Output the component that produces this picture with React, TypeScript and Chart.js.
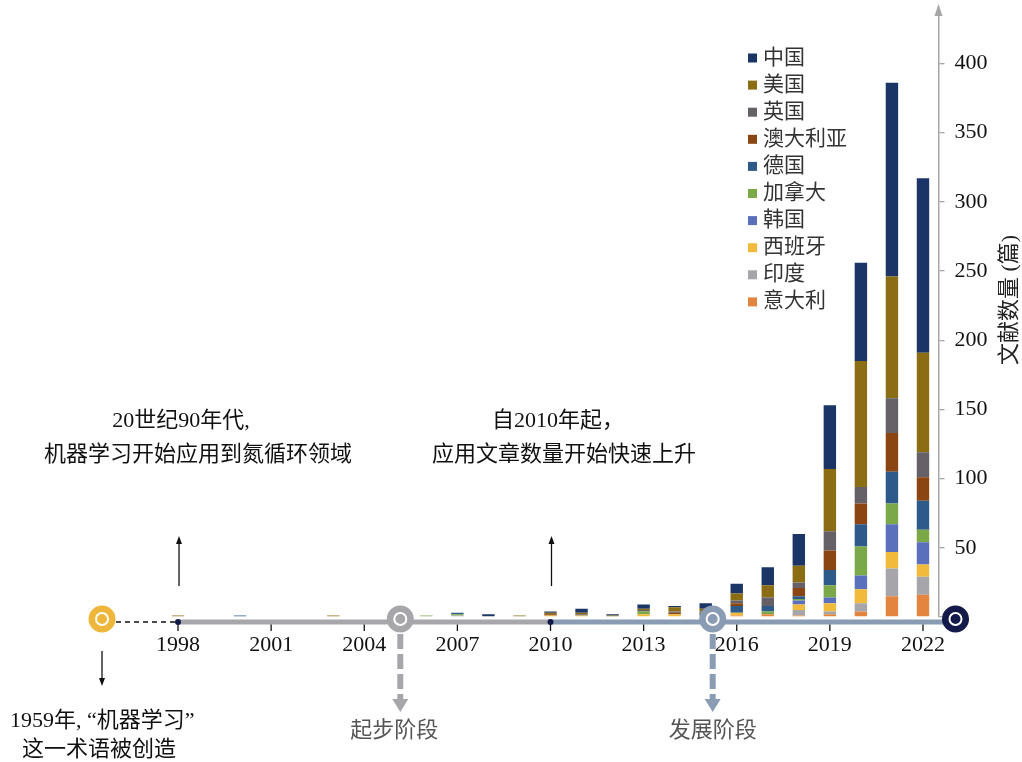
import React, { useEffect, useRef } from 'react';
import { Chart, registerables } from 'chart.js';

Chart.register(...registerables);

const FONT = "'Liberation Serif', 'Noto Sans CJK SC', serif";

const years = [
  '1998', '1999', '2000', '2001', '2002', '2003', '2004', '2005', '2006', '2007',
  '2008', '2009', '2010', '2011', '2012', '2013', '2014', '2015', '2016', '2017',
  '2018', '2019', '2020', '2021', '2022',
];
const shownYears = ['1998', '2001', '2004', '2007', '2010', '2013', '2016', '2019', '2022'];

// stacked from bottom (意大利) to top (中国)
const italy = [0,0,0,0,0,0,0,0,0,0,0,0,0,0,0,0,0,0,1,2,1,2,4,15,16];
const india = [0,0,0,0,0,0,0,0,0,1,0,0,0,0,0,0,0,0,0,0,4,2,6,20,13];
const spain = [0,0,0,0,0,0,0,0,0,0,0,0,1,1,0,2,2,1,2,0,4,6,10,12,9];
const korea = [0,0,0,0,0,0,0,0,0,0,0,0,0,0,0,0,0,0,0,0,3,4,10,20,16];
const canada = [0,0,0,0,0,0,0,0,1,1,0,0,0,0,0,2,0,0,0,2,1,9,21,15,9];
const germany = [0,0,1,0,0,0,0,0,0,1,0,0,0,0,0,0,0,1,5,4,2,11,16,23,21];
const australia = [0,0,0,0,0,0,0,0,0,0,0,0,1,0,0,0,1,1,2,0,6,14,15,28,17];
const uk = [0,0,0,0,0,0,0,0,0,0,0,0,0,1,0,1,1,1,2,6,4,14,12,25,18];
const usa = [1,0,0,0,0,1,0,0,0,0,0,1,1,1,1,1,3,2,5,9,12,45,91,88,72];
const china = [0,0,0,0,0,0,0,0,0,0,2,0,1,3,1,3,1,4,7,13,23,46,71,140,126];

const seriesNames = ['意大利', '印度', '西班牙', '韩国', '加拿大', '德国', '澳大利亚', '英国', '美国', '中国'];
const seriesValues = [italy, india, spain, korea, canada, germany, australia, uk, usa, china];
const seriesColors = ['#E3853F', '#A6A6AA', '#F2BA3A', '#5A70BC', '#7BA948', '#2E5A89', '#8B4513', '#656166', '#8B6E14', '#1B3566'];

const yTitle = '文献数量 (篇)';
const noteLeft = ['20世纪90年代,', '机器学习开始应用到氮循环领域'];
const noteMid = ['自2010年起，', '应用文章数量开始快速上升'];
const noteOrigin = ['1959年, “机器学习”', '这一术语被创造'];
const stageLabels = ['起步阶段', '发展阶段'];

const GRAY = '#A7A7AB';
const BLUEGRAY = '#8A9BB4';
const YELLOW = '#EEB63A';
const NAVY = '#131A4A';

function arrowLine(ctx: CanvasRenderingContext2D, x: number, yFrom: number, yTo: number, color: string, lw: number, headLen: number, headHalf: number, dash: number[] = []) {
  const dir = yTo > yFrom ? 1 : -1;
  ctx.save();
  ctx.strokeStyle = color;
  ctx.fillStyle = color;
  ctx.lineWidth = lw;
  ctx.setLineDash(dash);
  ctx.beginPath();
  ctx.moveTo(x, yFrom);
  ctx.lineTo(x, yTo - dir * headLen);
  ctx.stroke();
  ctx.setLineDash([]);
  ctx.beginPath();
  ctx.moveTo(x, yTo);
  ctx.lineTo(x - headHalf, yTo - dir * headLen);
  ctx.lineTo(x + headHalf, yTo - dir * headLen);
  ctx.closePath();
  ctx.fill();
  ctx.restore();
}

function ringCircle(ctx: CanvasRenderingContext2D, x: number, y: number, color: string) {
  ctx.save();
  ctx.fillStyle = color;
  ctx.beginPath();
  ctx.arc(x, y, 13.5, 0, Math.PI * 2);
  ctx.fill();
  ctx.strokeStyle = '#ffffff';
  ctx.lineWidth = 2;
  ctx.beginPath();
  ctx.arc(x, y, 6, 0, Math.PI * 2);
  ctx.stroke();
  ctx.restore();
}

const decor = {
  id: 'decor',
  beforeDatasetsDraw(chart: any) {
    const { ctx, chartArea, scales } = chart;
    const xs = scales.x;
    const x0 = xs.getPixelForValue(0);
    const x10 = xs.getPixelForValue(12);
    const ly = chartArea.bottom + 5;
    ctx.save();
    // dashed lead-in
    ctx.strokeStyle = '#111';
    ctx.lineWidth = 1.3;
    ctx.setLineDash([5, 4]);
    ctx.beginPath();
    ctx.moveTo(x0 - 62, ly);
    ctx.lineTo(x0, ly);
    ctx.stroke();
    ctx.setLineDash([]);
    // timeline
    ctx.lineWidth = 5;
    ctx.strokeStyle = GRAY;
    ctx.beginPath();
    ctx.moveTo(x0, ly);
    ctx.lineTo(x10, ly);
    ctx.stroke();
    ctx.strokeStyle = BLUEGRAY;
    ctx.beginPath();
    ctx.moveTo(x10, ly);
    ctx.lineTo(chartArea.right + 8, ly);
    ctx.stroke();
    // tick marks
    ctx.strokeStyle = '#111';
    ctx.lineWidth = 1.3;
    years.forEach((yr, i) => {
      if (!shownYears.includes(yr)) return;
      const px = xs.getPixelForValue(i);
      ctx.beginPath();
      ctx.moveTo(px, ly + 2.5);
      ctx.lineTo(px, ly + 9);
      ctx.stroke();
    });
    // dots
    ctx.fillStyle = NAVY;
    [x0, x10].forEach((px) => {
      ctx.beginPath();
      ctx.arc(px, ly, 3, 0, Math.PI * 2);
      ctx.fill();
    });
    ctx.restore();
  },
  afterDatasetsDraw(chart: any) {
    const { ctx, chartArea, scales } = chart;
    const xs = scales.x;
    const cy = chartArea.bottom + 2;
    const x0 = xs.getPixelForValue(0);
    const xStart = xs.getPixelForValue(7) + 5;
    const xDev = xs.getPixelForValue(17) + 7;
    ringCircle(ctx, x0 - 76, cy, YELLOW);
    ringCircle(ctx, xStart, cy, GRAY);
    ringCircle(ctx, xDev, cy, BLUEGRAY);
    ringCircle(ctx, chartArea.right + 17, cy, NAVY);

    // dashed stage arrows
    arrowLine(ctx, xStart, cy + 15, 712, GRAY, 6, 13, 8, [15, 5]);
    arrowLine(ctx, xDev, cy + 15, 712, BLUEGRAY, 6, 13, 8, [15, 5]);
  },
  afterDraw(chart: any) {
    const { ctx, chartArea, scales } = chart;
    const xs = scales.x;
    const x0 = xs.getPixelForValue(0);
    const x10 = xs.getPixelForValue(12);
    ctx.save();
    // y-axis arrow head
    ctx.fillStyle = '#A6A6A6';
    ctx.beginPath();
    ctx.moveTo(chartArea.right, chartArea.top - 4);
    ctx.lineTo(chartArea.right - 4, chartArea.top + 8);
    ctx.lineTo(chartArea.right + 4, chartArea.top + 8);
    ctx.closePath();
    ctx.fill();

    // up arrows and down arrow
    arrowLine(ctx, x0 + 1, 586, 536, '#111', 1.3, 8, 3);
    arrowLine(ctx, x10 + 1, 586, 536, '#111', 1.3, 8, 3);
    arrowLine(ctx, x0 - 76, 651, 686, '#111', 1.3, 8, 3);

    // annotations
    ctx.fillStyle = '#111';
    ctx.font = `22px ${FONT}`;
    ctx.textBaseline = 'middle';
    ctx.textAlign = 'center';
    ctx.fillText(noteLeft[0], 181, 421);
    ctx.fillText(noteLeft[1], 198, 455);
    ctx.textAlign = 'left';
    ctx.fillText(noteMid[0], 492, 421);
    ctx.fillText(noteMid[1], 432, 455);
    ctx.fillText(noteOrigin[0], 10, 721);
    ctx.fillText(noteOrigin[1], 22, 750);

    ctx.fillStyle = '#555';
    ctx.textAlign = 'center';
    ctx.fillText(stageLabels[0], xs.getPixelForValue(7) - 1, 731);
    ctx.fillText(stageLabels[1], xs.getPixelForValue(17) + 7, 731);

    // y title
    ctx.save();
    ctx.fillStyle = '#222';
    ctx.translate(1010, 300);
    ctx.rotate(-Math.PI / 2);
    ctx.textAlign = 'center';
    ctx.fillText(yTitle, 0, 0);
    ctx.restore();

    // legend (top = last dataset)
    ctx.font = `21px ${FONT}`;
    ctx.textAlign = 'left';
    const ds = chart.data.datasets;
    for (let k = 0; k < ds.length; k++) {
      const d = ds[ds.length - 1 - k];
      const cyL = 58 + k * 27.1;
      ctx.fillStyle = d.backgroundColor;
      ctx.fillRect(748, cyL - 4.5, 9, 9);
      ctx.fillStyle = '#333';
      ctx.fillText(d.label, 763, cyL);
    }
    ctx.restore();
  },
};

export default function App() {
  const ref = useRef<HTMLCanvasElement>(null);
  useEffect(() => {
    document.body.style.margin = '0';
    const canvas = ref.current!;
    Chart.defaults.font.family = FONT;
    const chart = new Chart(canvas, {
      type: 'bar',
      data: {
        labels: years,
        datasets: seriesNames.map((name, i) => ({
          label: name,
          data: seriesValues[i],
          backgroundColor: seriesColors[i],
          borderWidth: 0,
          barPercentage: 0.4,
          categoryPercentage: 1,
        })),
      },
      options: {
        responsive: false,
        animation: false,
        events: [],
        layout: { padding: { left: 162.5, top: 8, right: 0, bottom: 0 } },
        plugins: { legend: { display: false }, tooltip: { enabled: false } },
        scales: {
          x: {
            stacked: true,
            grid: { display: false, drawTicks: false },
            border: { display: false },
            ticks: {
              autoSkip: false,
              maxRotation: 0,
              minRotation: 0,
              padding: 15,
              color: '#111',
              font: { size: 22, family: FONT },
              callback: (_v: any, i: number) => (shownYears.includes(years[i]) ? years[i] : ''),
            },
            afterFit: (s: any) => {
              s.height = 145;
              s.paddingLeft = 0;
              s.paddingRight = 0;
            },
          },
          y: {
            stacked: true,
            position: 'right',
            min: 0,
            max: 440,
            grid: { drawOnChartArea: false, drawTicks: true, tickLength: 6, color: '#A6A6A6', lineWidth: 1.3 },
            border: { color: '#A6A6A6', width: 1.5 },
            ticks: {
              stepSize: 50,
              includeBounds: false,
              padding: 10,
              color: '#111',
              font: { size: 22, family: FONT },
              callback: (v: any) => (v === 0 ? '' : String(v)),
            },
            afterFit: (s: any) => {
              s.width = 83.5;
              s.paddingTop = 0;
              s.paddingBottom = 0;
            },
          },
        },
      },
      plugins: [decor],
    } as any);
    return () => chart.destroy();
  }, []);
  return (
    <div style={{ width: 1022, height: 762 }}>
      <canvas ref={ref} width={1022} height={762} style={{ display: 'block' }} />
    </div>
  );
}
